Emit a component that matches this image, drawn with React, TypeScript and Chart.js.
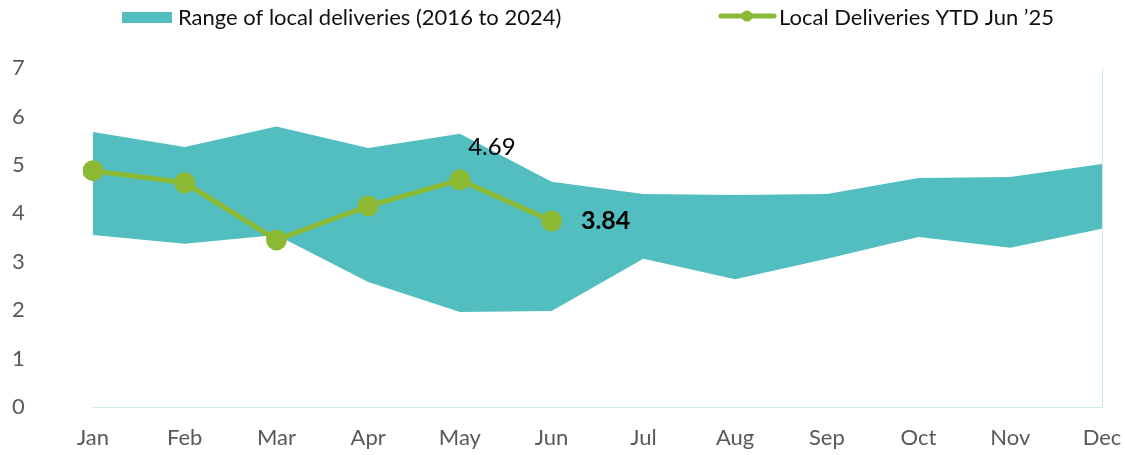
import React, { useEffect, useRef } from "react";
import { Chart, registerables } from "chart.js";

Chart.register(...registerables);

const months = ["Jan", "Feb", "Mar", "Apr", "May", "Jun", "Jul", "Aug", "Sep", "Oct", "Nov", "Dec"];
const rangeLow = [3.55, 3.37, 3.55, 2.58, 1.96, 1.98, 3.06, 2.64, 3.06, 3.51, 3.29, 3.68];
const rangeHigh = [5.68, 5.37, 5.79, 5.35, 5.64, 4.65, 4.4, 4.38, 4.4, 4.73, 4.75, 5.02];
const ytd2025 = [4.88, 4.63, 3.45, 4.15, 4.69, 3.84, null, null, null, null, null, null];
const yTicks = [0, 1, 2, 3, 4, 5, 6, 7];
const rangeLabel = "Range of local deliveries (2016 to 2024)";
const lineLabel = "Local Deliveries YTD Jun \u201925";

const TEAL = "#52BEC0";
const GREEN = "#8CB934";
const FONT = "Lato, 'Open Sans', sans-serif";

const customPlugin = {
  id: "customDecor",
  afterDatasetsDraw(chart: any) {
    const ctx = chart.ctx;
    ctx.save();
    // data labels
    const meta = chart.getDatasetMeta(2);
    const pMay = meta.data[4];
    const pJun = meta.data[5];
    ctx.fillStyle = "#000";
    ctx.textBaseline = "middle";
    ctx.textAlign = "center";
    ctx.font = `24px ${FONT}`;
    if (pMay) ctx.fillText(String(ytd2025[4]), pMay.x + 32, pMay.y - 33);
    ctx.font = `bold 25px ${FONT}`;
    if (pJun) ctx.fillText(String(ytd2025[5]), pJun.x + 54, pJun.y);

    // legend
    ctx.font = `22px ${FONT}`;
    ctx.textAlign = "left";
    ctx.fillStyle = TEAL;
    ctx.fillRect(114, 4, 50, 11);
    ctx.fillStyle = "#111";
    ctx.fillText(rangeLabel, 170, 10);

    ctx.strokeStyle = GREEN;
    ctx.lineWidth = 5;
    ctx.lineCap = "round";
    ctx.beginPath();
    ctx.moveTo(713, 8);
    ctx.lineTo(766, 8);
    ctx.stroke();
    ctx.fillStyle = GREEN;
    ctx.beginPath();
    ctx.arc(739, 8, 5.5, 0, Math.PI * 2);
    ctx.fill();
    ctx.fillStyle = "#111";
    ctx.fillText(lineLabel, 771, 10);
    ctx.restore();
  },
};

export default function App() {
  const ref = useRef<HTMLCanvasElement | null>(null);
  useEffect(() => {
    document.documentElement.style.overflow = "hidden";
    if (!ref.current) return;
    const chart = new Chart(ref.current, {
      type: "line",
      data: {
        labels: months,
        datasets: [
          {
            label: "low",
            data: rangeLow,
            borderWidth: 0,
            pointRadius: 0,
            fill: false,
            backgroundColor: TEAL,
            borderColor: "transparent",
            order: 2,
          },
          {
            label: rangeLabel,
            data: rangeHigh,
            borderWidth: 0,
            pointRadius: 0,
            fill: "-1",
            backgroundColor: TEAL,
            borderColor: "transparent",
            order: 1,
          },
          {
            label: lineLabel,
            data: ytd2025,
            borderColor: GREEN,
            backgroundColor: GREEN,
            borderWidth: 5,
            pointRadius: 10.5,
            pointBackgroundColor: GREEN,
            pointBorderWidth: 0,
            fill: false,
            order: 0,
          },
        ],
      },
      options: {
        animation: false,
        responsive: true,
        maintainAspectRatio: false,
        layout: { padding: { top: 60, right: 23, left: 4, bottom: 0 } },
        plugins: {
          legend: { display: false },
          tooltip: { enabled: false },
        },
        scales: {
          x: {
            offset: false,
            grid: {
              display: true,
              drawTicks: false,
              color: (c: any) => (c.index === months.length - 1 ? "#CBEDEE" : "transparent"),
              lineWidth: 1,
            },
            border: { display: true, color: "#CBEDEE", width: 1 },
            ticks: {
              color: "#595959",
              font: { family: FONT, size: 22 },
              padding: 18,
              maxRotation: 0,
              autoSkip: false,
            },
            afterFit: (s: any) => {
              s.height = 48;
              s.paddingLeft = 0;
              s.paddingRight = 0;
            },
          },
          y: {
            min: 0,
            max: 7,
            afterBuildTicks: (s: any) => {
              s.ticks = yTicks.map((v) => ({ value: v }));
            },
            grid: { display: false, drawTicks: false },
            border: { display: false },
            ticks: {
              color: "#595959",
              font: { family: FONT, size: 22 },
              crossAlign: "far",
              padding: 8,
            },
            afterFit: (s: any) => {
              s.width = 81;
              s.paddingTop = 0;
              s.paddingBottom = 0;
            },
          },
        },
      },
      plugins: [customPlugin],
    });
    return () => chart.destroy();
  }, []);
  return (
    <div style={{ position: "absolute", left: 8, top: 8, width: 1117, height: 447 }}>
      <canvas ref={ref} />
    </div>
  );
}
